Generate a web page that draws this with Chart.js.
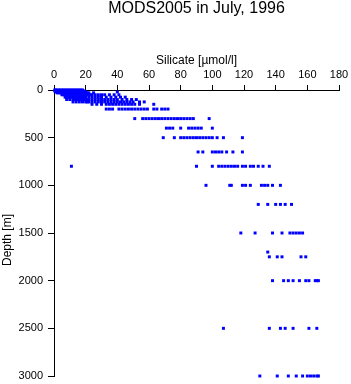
<!DOCTYPE html>
<html>
<head>
<meta charset="utf-8">
<script src="https://cdn.jsdelivr.net/npm/chart.js@4"></script>
<style>
  html, body { margin: 0; padding: 0; background: #fff; }
</style>
</head>
<body>
<canvas id="chart" width="351" height="384"></canvas>
<script>
const chartTitle = 'MODS2005 in July, 1996';
const xTitle = 'Silicate [µmol/l]';
const yTitle = 'Depth [m]';
const xTicks = [0, 20, 40, 60, 80, 100, 120, 140, 160, 180];
const yTicks = [0, 500, 1000, 1500, 2000, 2500, 3000];

// silicate readings per standard depth level
const sil0 = [0.5, 1, 2, 3, 4, 5, 6, 7, 8, 9, 10, 11, 12, 13, 14, 15, 16, 17, 18];
const sil10 = [0.5, 1.5, 2.5, 3, 4, 5, 6, 7, 8, 9, 10, 11, 12, 13, 14, 15, 16, 17, 18, 19];
const sil20 = [1, 2, 3, 4, 5, 6, 7, 8, 9, 10, 11, 12, 13, 14, 15, 16, 17, 18, 19, 20, 40];
const sil30 = [2, 3, 4, 5, 6, 7, 8, 9, 10, 11, 12, 13, 14, 15, 16, 17, 18, 19, 20, 21, 22, 25];
const sil50 = [5, 6, 7, 8, 9, 10, 11, 12, 13, 14, 15, 16, 17, 18, 19, 20, 21, 22, 23, 24, 26, 28, 30, 32, 35, 38, 41];
const sil75 = [7, 8, 9, 10, 11, 12, 13, 14, 15, 16, 17, 18, 19, 20, 22, 24, 26, 28, 30, 33, 36, 39, 42, 45];
const sil100 = [8, 10, 12, 13, 14, 15, 16, 17, 18, 19, 20, 21, 22, 24, 26, 28, 30, 32, 34, 36, 38, 40, 43, 46, 49, 52];
const sil125 = [12, 14, 16, 18, 20, 21, 22, 24, 26, 28, 30, 32, 34, 36, 38, 40, 42, 44, 46, 48, 50, 54, 57];
const sil150 = [24, 27, 30, 33, 35, 37, 39, 41, 43, 45, 47, 49, 51, 54, 63];
const sil200 = [33, 35, 37, 41, 43, 45, 47, 49, 51, 53, 55, 57, 59, 63, 65, 68, 70, 72];
const sil300 = [51, 56, 58, 60, 62, 64, 66, 68, 70, 72, 74, 76, 78, 80, 82, 84, 86, 88, 98];
const sil400 = [71, 73, 75, 80, 85, 87, 89, 91, 93, 100];
const sil500 = [69, 76, 80, 82, 84, 86, 88, 90, 92, 94, 96, 98, 100, 103, 107, 119];
const sil650 = [91, 94, 100, 102, 104, 106, 109, 113, 119];
const sil800 = [11, 90, 100, 104, 106, 108, 110, 112, 114, 116, 119, 121, 124, 126, 129, 132, 136];
const sil1000 = [96, 111, 112, 119, 121, 124, 131, 133, 135, 138, 143];
const sil1200 = [129, 135, 140, 143, 146, 150];
const sil1500 = [118, 127, 138, 144, 149, 151, 153, 155, 157];
const sil1700 = [135];
const sil1750 = [136, 141, 144, 156, 159];
const sil2000 = [138, 145, 148, 151, 155, 159, 161, 165, 166, 167];
const sil2500 = [107, 136, 143, 146, 151, 161, 166];
const sil3000 = [130, 141, 148, 153, 157, 160, 162, 164, 166, 167];

const levels = [
  [0, sil0], [10, sil10], [20, sil20], [30, sil30], [50, sil50], [75, sil75],
  [100, sil100], [125, sil125], [150, sil150], [200, sil200], [300, sil300],
  [400, sil400], [500, sil500], [650, sil650], [800, sil800], [1000, sil1000],
  [1200, sil1200], [1500, sil1500], [1700, sil1700], [1750, sil1750],
  [2000, sil2000], [2500, sil2500], [3000, sil3000]
];

const points = [];
levels.forEach(([depth, vals]) => {
  vals.forEach(v => points.push({ x: v, y: depth }));
});

const FONT = '"Liberation Sans", Arial, Helvetica, sans-serif';

// titles placed like the original plot
const textPlugin = {
  id: 'texts',
  afterDraw(chart) {
    const { ctx, chartArea } = chart;
    const cx = (chartArea.left + chartArea.right) / 2;
    ctx.save();
    ctx.fillStyle = '#000';
    ctx.textAlign = 'center';
    ctx.textBaseline = 'middle';
    ctx.font = '16px ' + FONT;
    ctx.fillText(chartTitle, cx, 9);
    ctx.font = '12px ' + FONT;
    ctx.fillText(xTitle, cx, 61);
    ctx.translate(8, 240);
    ctx.rotate(-Math.PI / 2);
    ctx.fillText(yTitle, 0, 0);
    ctx.restore();
  }
};

new Chart(document.getElementById('chart'), {
  type: 'scatter',
  data: {
    datasets: [{
      data: points,
      pointStyle: 'rect',
      pointRadius: 2.1,
      pointBorderWidth: 0,
      backgroundColor: '#0000ff',
      borderColor: '#0000ff',
      clip: false
    }]
  },
  options: {
    responsive: false,
    animation: false,
    layout: { padding: { left: 0, right: 12, top: 0, bottom: 8 } },
    plugins: {
      legend: { display: false },
      title: { display: false },
      tooltip: { enabled: false }
    },
    scales: {
      x: {
        type: 'linear',
        position: 'top',
        min: 0,
        max: 180,
        afterBuildTicks: s => { s.ticks = xTicks.map(v => ({ value: v })); },
        afterFit: s => { s.height = 90; s.paddingLeft = 0; s.paddingRight = 0; },
        ticks: { color: '#000', font: { family: FONT, size: 11 }, padding: 3, maxRotation: 0, callback: v => String(v) },
        grid: { drawOnChartArea: false, tickLength: 5, color: '#000' },
        border: { color: '#000' }
      },
      y: {
        type: 'linear',
        reverse: true,
        min: 0,
        max: 3000,
        afterBuildTicks: s => { s.ticks = yTicks.map(v => ({ value: v })); },
        afterFit: s => { s.width = 54; s.paddingTop = 0; s.paddingBottom = 0; },
        ticks: { color: '#000', font: { family: FONT, size: 11 }, padding: 5, callback: v => String(v) },
        grid: { drawOnChartArea: false, tickLength: 6, color: '#000' },
        border: { color: '#000' }
      }
    }
  },
  plugins: [textPlugin]
});
</script>
</body>
</html>
